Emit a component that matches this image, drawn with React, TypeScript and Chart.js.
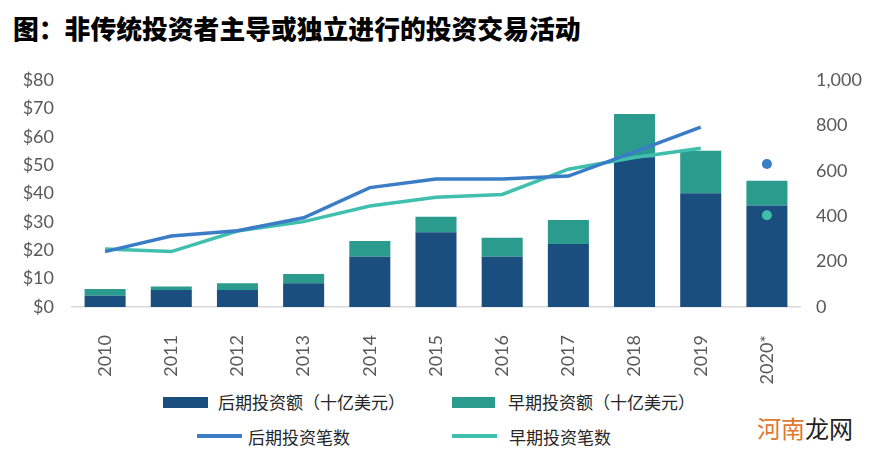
import React, { useEffect, useRef } from "react";
import { Chart, registerables } from "chart.js";

Chart.register(...registerables);

const years = ["2010", "2011", "2012", "2013", "2014", "2015", "2016", "2017", "2018", "2019", "2020*"];
const lateAmount = [4.0, 6.0, 6.0, 8.4, 17.7, 26.3, 17.7, 22.2, 52.8, 40.1, 35.8];
const earlyAmount = [2.3, 1.2, 2.4, 3.2, 5.6, 5.5, 6.7, 8.5, 15.2, 15.0, 8.7];
const lateCount = [244, 313, 336, 393, 526, 564, 564, 577, 683, 792, null];
const earlyCount = [255, 244, 335, 376, 445, 483, 496, 607, 659, 699, null];
const lateCount2020 = [null, null, null, null, null, null, null, null, null, null, 630];
const earlyCount2020 = [null, null, null, null, null, null, null, null, null, null, 404];

const title = "图：非传统投资者主导或独立进行的投资交易活动";
const legendLabels = ["后期投资额（十亿美元）", "早期投资额（十亿美元）", "后期投资笔数", "早期投资笔数"];

const COLORS = {
  lateBar: "#1a4e7e",
  earlyBar: "#2b9b8e",
  lateLine: "#3a7dc6",
  earlyLine: "#41bfae",
  axisText: "#595959",
};

export default function App() {
  const canvasRef = useRef<HTMLCanvasElement | null>(null);

  useEffect(() => {
    const canvas = canvasRef.current;
    if (!canvas) return;
    const tickFont = { family: "Lato, 'Open Sans', sans-serif", size: 18 };
    const chart = new Chart(canvas, {
      type: "bar",
      data: {
        labels: years,
        datasets: [
          {
            type: "line",
            label: legendLabels[2],
            data: lateCount,
            yAxisID: "y1",
            borderColor: COLORS.lateLine,
            borderWidth: 3.5,
            pointRadius: 0,
            fill: false,
            tension: 0,
            order: 0,
          },
          {
            type: "line",
            label: legendLabels[3],
            data: earlyCount,
            yAxisID: "y1",
            borderColor: COLORS.earlyLine,
            borderWidth: 3.5,
            pointRadius: 0,
            fill: false,
            tension: 0,
            order: 1,
          },
          {
            type: "line",
            label: legendLabels[2] + " 2020*",
            data: lateCount2020,
            yAxisID: "y1",
            showLine: false,
            pointRadius: 5,
            pointBackgroundColor: COLORS.lateLine,
            pointBorderWidth: 0,
            order: 0,
          },
          {
            type: "line",
            label: legendLabels[3] + " 2020*",
            data: earlyCount2020,
            yAxisID: "y1",
            showLine: false,
            pointRadius: 5,
            pointBackgroundColor: COLORS.earlyLine,
            pointBorderWidth: 0,
            order: 0,
          },
          {
            type: "bar",
            label: legendLabels[0],
            data: lateAmount,
            yAxisID: "y",
            backgroundColor: COLORS.lateBar,
            categoryPercentage: 1,
            barPercentage: 0.62,
            order: 3,
          },
          {
            type: "bar",
            label: legendLabels[1],
            data: earlyAmount,
            yAxisID: "y",
            backgroundColor: COLORS.earlyBar,
            categoryPercentage: 1,
            barPercentage: 0.62,
            order: 3,
          },
        ],
      },
      options: {
        responsive: false,
        animation: false,
        devicePixelRatio: 1,
        layout: { padding: { top: 25, left: 0, right: 0, bottom: 0 } },
        plugins: {
          legend: { display: false },
          tooltip: { enabled: false },
          title: { display: false },
        },
        scales: {
          x: {
            stacked: true,
            offset: true,
            grid: { display: false },
            border: { display: true, color: "#d9d9d9", width: 1.5 },
            ticks: {
              color: COLORS.axisText,
              font: tickFont,
              minRotation: 90,
              maxRotation: 90,
              padding: 20,
              autoSkip: false,
            },
            afterFit: (scale: any) => {
              scale.height = 78;
            },
          },
          y: {
            position: "left",
            stacked: true,
            min: 0,
            max: 80,
            grid: { display: false },
            border: { display: false },
            ticks: {
              stepSize: 10,
              color: COLORS.axisText,
              font: tickFont,
              padding: 10,
              callback: (v: any) => "$" + v,
            },
            afterFit: (scale: any) => {
              scale.width = 72;
            },
          },
          y1: {
            position: "right",
            stacked: false,
            min: 0,
            max: 1000,
            grid: { display: false },
            border: { display: false },
            ticks: {
              stepSize: 200,
              color: COLORS.axisText,
              font: tickFont,
              padding: 8,
              callback: (v: any) => Number(v).toLocaleString("en-US"),
            },
            afterFit: (scale: any) => {
              scale.width = 93;
            },
          },
        },
      },
    } as any);
    return () => chart.destroy();
  }, []);

  const cjk = "'Noto Sans CJK SC', 'Noto Sans', sans-serif";
  const legendText: React.CSSProperties = {
    position: "absolute",
    fontFamily: cjk,
    fontSize: 17,
    lineHeight: "22px",
    color: "#262626",
    whiteSpace: "nowrap",
  };

  return (
    <div style={{ position: "absolute", left: 0, top: 0, width: 893, height: 458, background: "#fff", overflow: "hidden" }}>
      <div
        style={{
          position: "absolute",
          left: 13,
          top: 12,
          fontFamily: cjk,
          fontWeight: 900,
          fontSize: 25.8,
          lineHeight: "32px",
          color: "#000",
          whiteSpace: "nowrap",
        }}
      >
        {title}
      </div>
      <canvas
        ref={canvasRef}
        width={893}
        height={330}
        style={{ position: "absolute", left: 0, top: 55, width: 893, height: 330 }}
      />
      {/* legend */}
      <div style={{ position: "absolute", left: 163, top: 397, width: 45, height: 11, background: COLORS.lateBar }} />
      <div style={{ ...legendText, left: 218, top: 391 }}>{legendLabels[0]}</div>
      <div style={{ position: "absolute", left: 452, top: 397, width: 43, height: 11, background: COLORS.earlyBar }} />
      <div style={{ ...legendText, left: 508, top: 391 }}>{legendLabels[1]}</div>
      <div style={{ position: "absolute", left: 197, top: 434, width: 45, height: 3.5, background: COLORS.lateLine }} />
      <div style={{ ...legendText, left: 248, top: 426 }}>{legendLabels[2]}</div>
      <div style={{ position: "absolute", left: 452, top: 434, width: 45, height: 3.5, background: COLORS.earlyLine }} />
      <div style={{ ...legendText, left: 509, top: 426 }}>{legendLabels[3]}</div>
      {/* watermark */}
      <div
        style={{
          position: "absolute",
          left: 757,
          top: 413,
          fontFamily: cjk,
          fontSize: 24,
          lineHeight: "30px",
          whiteSpace: "nowrap",
        }}
      >
        <span style={{ color: "#e0782f" }}>河南</span>
        <span style={{ color: "#222" }}>龙网</span>
      </div>
    </div>
  );
}
